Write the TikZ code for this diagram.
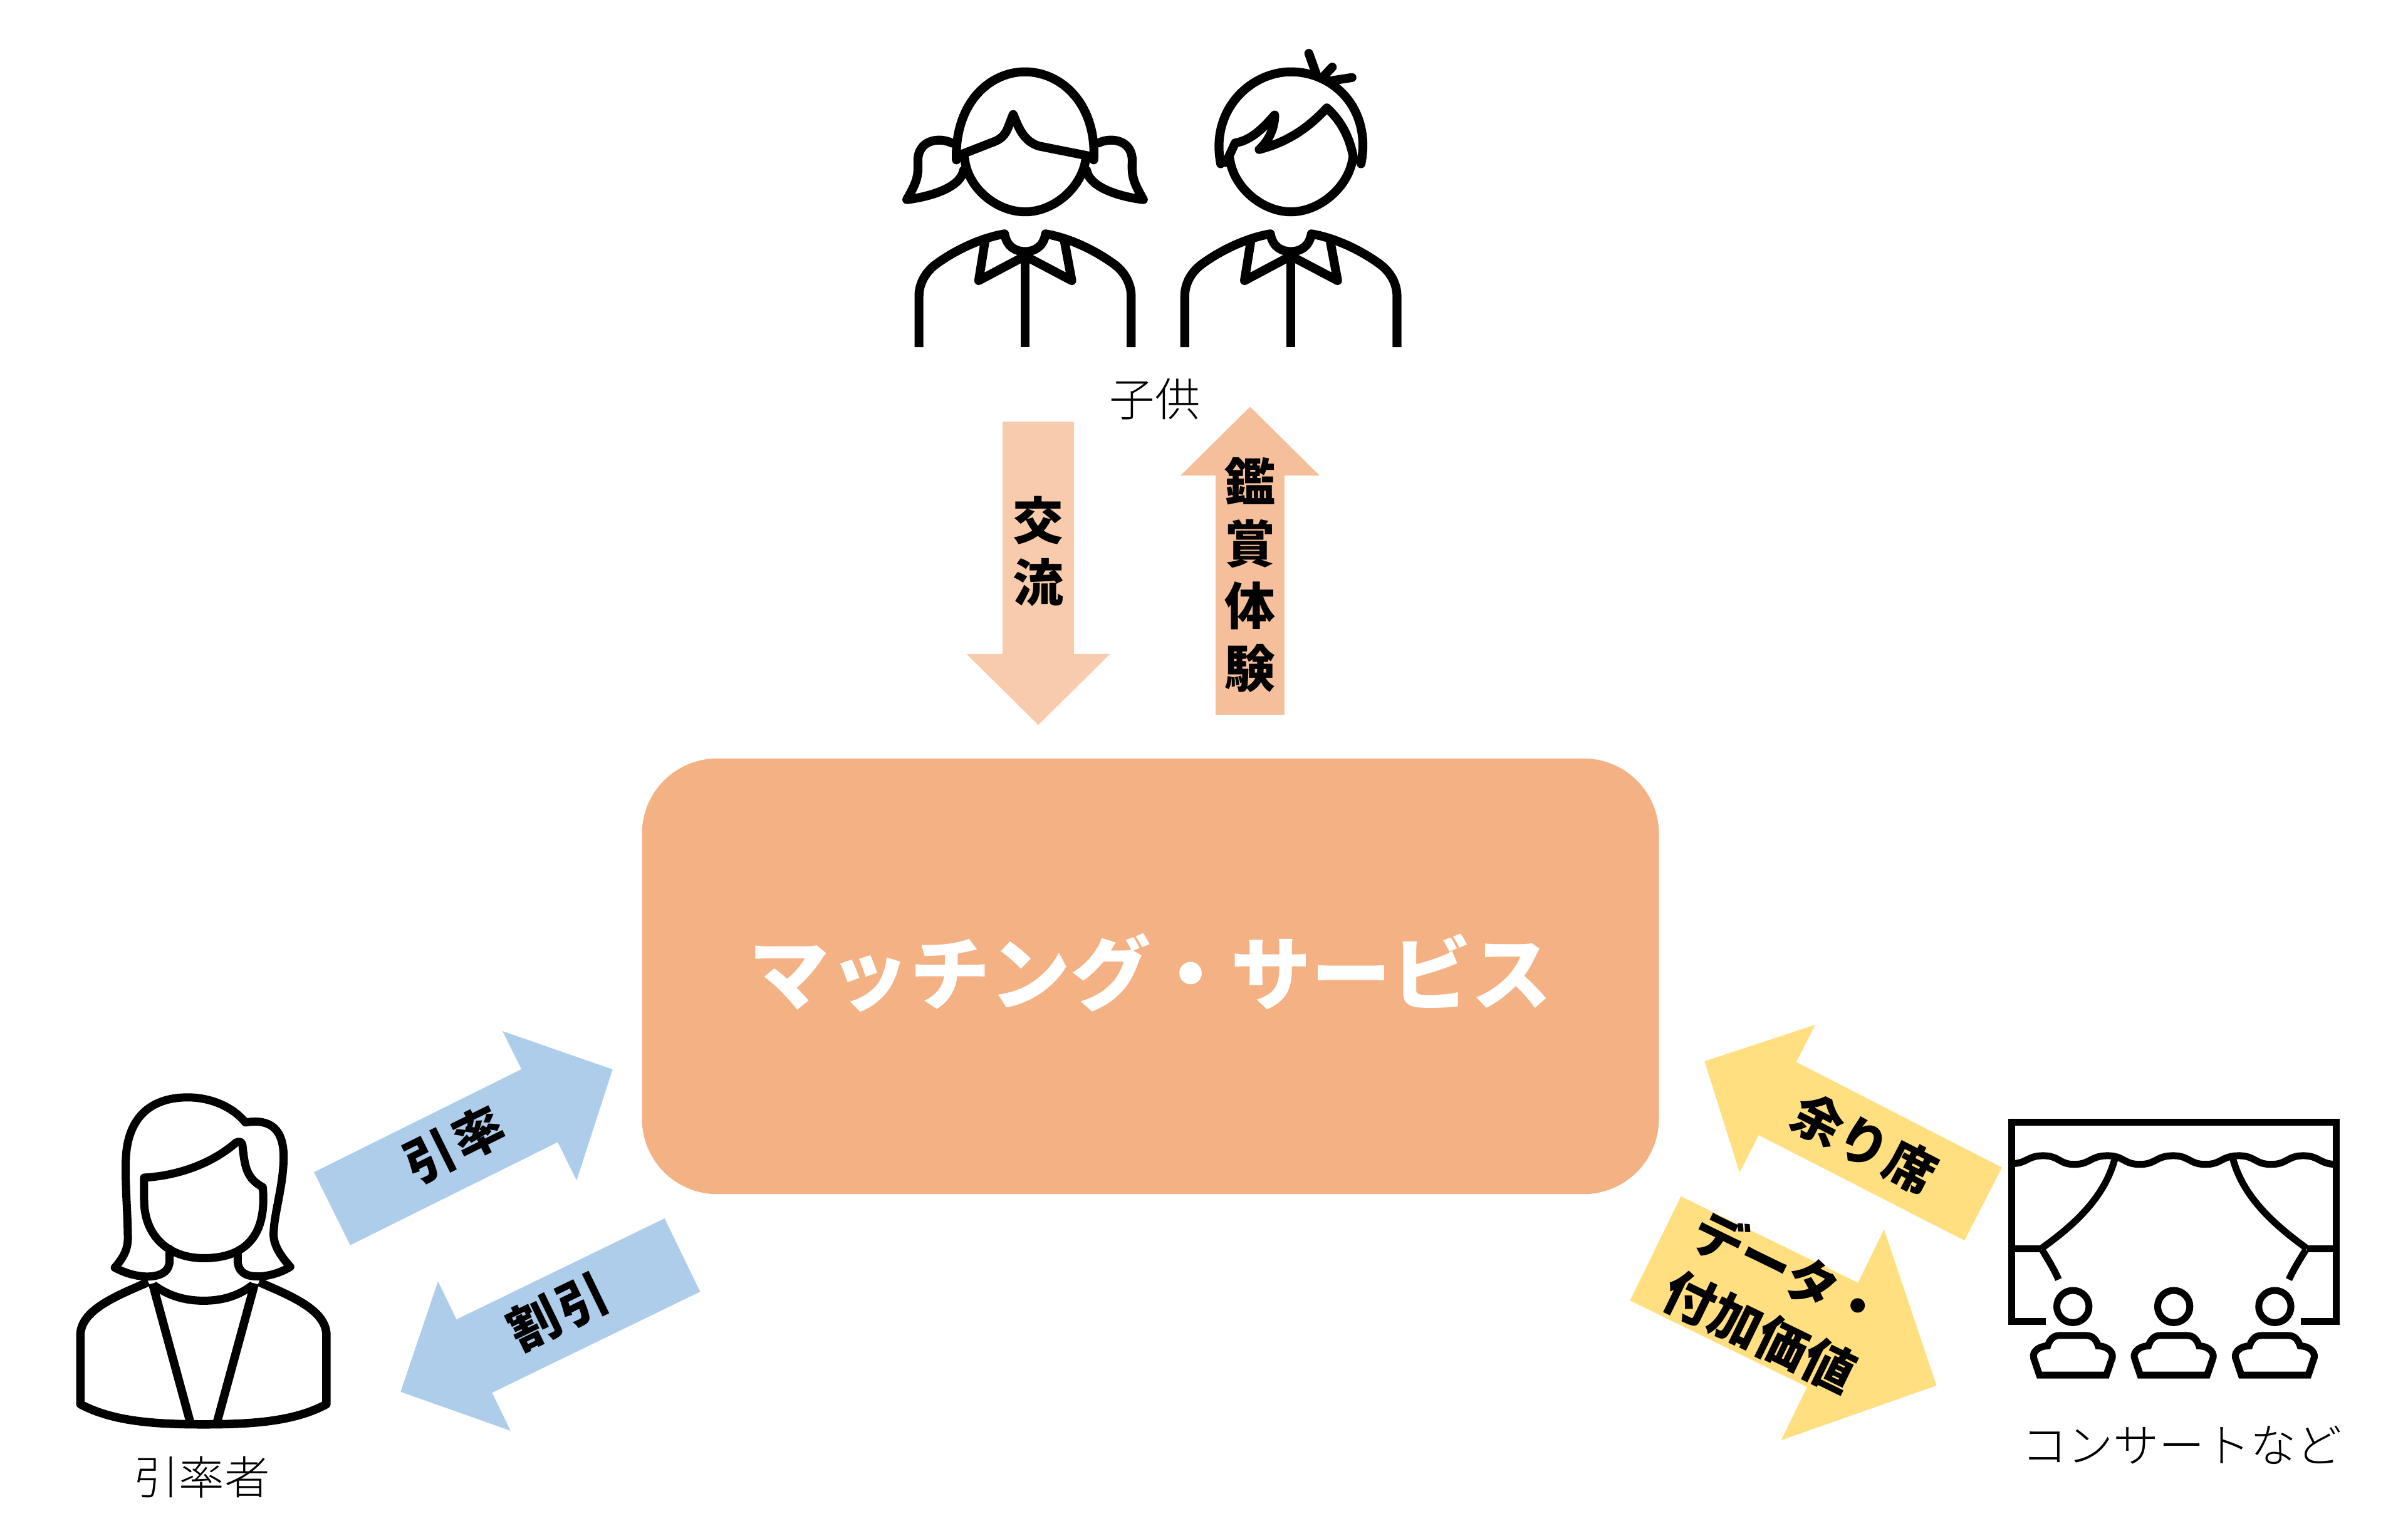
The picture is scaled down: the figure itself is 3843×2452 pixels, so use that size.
\documentclass[tikz,border=0pt]{standalone}
\usepackage{fontspec}
\setmainfont{Noto Sans CJK JP}
\newfontfamily\lightcjk{Noto Sans CJK JP Light}
\usepackage{xcolor}
\usetikzlibrary{arrows.meta,positioning}
\definecolor{serviceorange}{HTML}{F4B183}
\definecolor{peachpale}{HTML}{F7CBAC}
\definecolor{peachmid}{HTML}{F6BF9B}
\definecolor{arrowblue}{HTML}{AECDEA}
\definecolor{arrowyellow}{HTML}{FFDF80}
\newcommand{\shirtbody}{%
  \draw[icon] (116,1216) -- (116,1020) .. controls (116,970) and (135,925) .. (165,895)
    .. controls (220,840) and (290,795) .. (354,780)
    .. controls (360,830) and (385,848) .. (411,848)
    .. controls (437,848) and (462,830) .. (468,780)
    .. controls (532,795) and (602,840) .. (657,895)
    .. controls (687,925) and (706,970) .. (706,1020) -- (706,1216);
  \draw[icon] (300,805) -- (282,960) -- (411,865) -- (541,960) -- (520,805);
  \draw[icon, line cap=butt] (411,865) -- (411,1216);
}
\begin{document}
\begin{tikzpicture}[
  x=0.01cm, y=-0.01cm,
  every node/.style={font=\lightcjk\fontsize{20.6}{24}\selectfont},
  icon/.style={draw=black, line width=1.42mm, line join=round},
  iconcap/.style={icon, line cap=round},
  lbl/.style={font=\bfseries\fontsize{23}{28.2}\selectfont, align=center, inner sep=0pt},
  blockarr/.style n args={3}{line width=#1, -{Triangle[length=#2,width=#3]}},
  servicebox/.style={fill=serviceorange, rounded corners=1.2cm, minimum width=16.22cm, minimum height=6.95cm,
              text=white, font=\bfseries\fontsize{36.4}{40}\selectfont}
]
\useasboundingbox (0,0) rectangle (3843,2452);
\fill[white] (0,0) rectangle (3843,2452);

\node[servicebox] (service) at (1836,1558.5) {\raisebox{.24cm}{マッチング・サービス}};

\node (kidslabel) at (1843,637) {子供};
\node (leaderlabel) at (322,2358) {引率者};
\node[font=\lightcjk\fontsize{20.8}{24}\selectfont] (venuelabel) at (3482,2307) {コンサートなど};

% arrow ends
\coordinate (exchangefrom) at (1657,673);
\coordinate (exchangeto) at (1657,1157.6);
\coordinate (viewfrom) at (1995,1141);
\coordinate (viewto) at (1995,649);
\coordinate (leadfrom) at (530,1929.5);
\coordinate (leadto) at (978,1707);
\coordinate (discountfrom) at (1089,2003.5);
\coordinate (discountto) at (639,2222);
\coordinate (seatfrom) at (3165,1922);
\coordinate (seatto) at (2720,1694);
\coordinate (datafrom) at (2642,1993);
\coordinate (datato) at (3091,2212);

\draw[blockarr={1.14cm}{1.136cm}{2.22cm}, draw=peachpale] (exchangefrom) -- (exchangeto)
  node[lbl, pos=.428] (exchangelabel) {交\\流};
\draw[blockarr={1.10cm}{1.10cm}{2.15cm}, draw=peachmid] (viewfrom) -- (viewto)
  node[lbl, pos=.454] (viewlabel) {鑑\\賞\\体\\験};
\draw[blockarr={1.30cm}{1.305cm}{2.58cm}, draw=arrowblue] (leadfrom) -- (leadto)
  node[lbl, sloped, pos=.44, yshift=1.5pt] (leadlabel) {引\hspace{1.5pt}率};
\draw[blockarr={1.30cm}{1.31cm}{2.57cm}, draw=arrowblue] (discountfrom) -- (discountto)
  node[lbl, sloped, pos=.435, yshift=1.5pt] (discountlabel) {割\hspace{1.5pt}引};
\draw[blockarr={1.31cm}{1.31cm}{2.57cm}, draw=arrowyellow] (seatfrom) -- (seatto)
  node[lbl, sloped, pos=.425] (seatlabel) {余り\hspace{1pt}席};
\draw[blockarr={1.85cm}{1.85cm}{3.63cm}, draw=arrowyellow] (datafrom) -- (datato)
  node[lbl, sloped, pos=.4155, yshift=2pt, font=\bfseries\fontsize{23.4}{30.4}\selectfont] (datalabel) {データ・\\付加価値};

% girl
\begin{scope}[shift={(1400,50)}, xscale=0.574, yscale=0.4146]
  \shirtbody
  \draw[iconcap] (220,495) .. controls (215,280) and (310,156) .. (411,156)
    .. controls (512,156) and (610,280) .. (602,495);
  \draw[iconcap] (243,490) .. controls (250,600) and (330,695) .. (411,695)
    .. controls (492,695) and (570,600) .. (580,490);
  \draw[iconcap] (232,475) -- (325,425) .. controls (360,405) and (360,380) .. (378,320)
    .. controls (395,380) and (410,425) .. (450,442) -- (595,482);
  \draw[iconcap] (207,430) .. controls (170,405) and (112,420) .. (113,500)
    .. controls (115,560) and (110,580) .. (82,648) .. controls (130,640) and (230,610) .. (240,535);
  \draw[iconcap] (615,430) .. controls (652,405) and (710,420) .. (709,500)
    .. controls (707,560) and (712,580) .. (740,648) .. controls (692,640) and (592,610) .. (582,535);
\end{scope}

% boy
\begin{scope}[shift={(1400,50)}, xscale=0.574, yscale=0.4146]
  \begin{scope}[shift={(739,0)}]
    \shirtbody
  \end{scope}
  \draw[iconcap] (955,510) .. controls (925,300) and (1040,156) .. (1150,156)
    .. controls (1270,156) and (1375,300) .. (1345,510);
  \draw[iconcap] (1150,695) .. controls (1070,695) and (990,600) .. (980,490);
  \draw[iconcap] (1150,695) .. controls (1230,695) and (1310,600) .. (1322,490);
  \draw[iconcap] (970,505) -- (995,430) .. controls (1040,420) and (1075,370) .. (1105,322)
    .. controls (1105,370) and (1090,420) .. (1062,455)
    .. controls (1130,430) and (1190,385) .. (1250,295)
    .. controls (1290,345) and (1315,410) .. (1325,495);
  \draw[iconcap] (1200,85) -- (1222,170);
  \draw[iconcap] (1265,138) -- (1240,175);
  \draw[iconcap] (1320,178) -- (1255,192);
\end{scope}

% leader
\begin{scope}[shift={(80,1700)}, xscale=0.3333, yscale=0.459]
  \draw[iconcap, line width=1.3mm] (310,705) .. controls (355,665) and (375,640) .. (372,590)
    .. controls (370,500) and (360,430) .. (362,340)
    .. controls (365,170) and (500,110) .. (670,113)
    .. controls (780,115) and (880,150) .. (935,200)
    .. controls (1020,190) and (1118,200) .. (1118,320)
    .. controls (1118,420) and (1070,520) .. (1070,590)
    .. controls (1070,630) and (1110,670) .. (1150,702)
    .. controls (1100,725) and (1030,738) .. (985,735)
    .. controls (930,735) and (898,715) .. (898,680) -- (898,650);
  \draw[iconcap, line width=1.3mm] (310,705) .. controls (360,725) and (430,740) .. (490,735)
    .. controls (540,730) and (572,715) .. (572,680) -- (572,640);
  \draw[iconcap, line width=1.3mm] (450,392) .. controls (620,385) and (780,340) .. (890,270)
    .. controls (925,260) and (920,280) .. (925,305)
    .. controls (935,370) and (955,400) .. (1018,425)
    .. controls (1030,520) and (1015,672) .. (735,672)
    .. controls (560,672) and (450,590) .. (450,470) -- cycle;
  \draw[icon, line width=1.35mm] (470,755) .. controls (330,800) and (145,850) .. (145,940) -- (145,1180)
    .. controls (300,1240) and (500,1250) .. (735,1250)
    .. controls (970,1250) and (1170,1240) .. (1323,1180) -- (1323,940)
    .. controls (1323,850) and (1140,800) .. (1000,755);
  \draw[icon, line width=1.35mm] (490,760) -- (670,1240);
  \draw[icon, line width=1.35mm] (980,760) -- (800,1240);
  \draw[icon, line width=1.3mm] (495,765) .. controls (570,805) and (650,820) .. (735,820)
    .. controls (820,820) and (900,805) .. (970,765);
\end{scope}

% stage and audience
\begin{scope}[shift={(3150,1750)}, scale=0.3954]
  \draw[icon, line width=1.1mm, line join=miter] (290,908) -- (152,908) -- (152,106) -- (1464,106) -- (1464,908) -- (1320,908);
  \draw[icon, line width=1.1mm] (152,272) .. controls (215,272) and (215,240) .. (280,240)
    .. controls (345,240) and (345,275) .. (405,275) .. controls (470,275) and (470,240) .. (540,240)
    .. controls (605,240) and (605,275) .. (670,275) .. controls (735,275) and (735,240) .. (805,240)
    .. controls (870,240) and (870,275) .. (935,275) .. controls (1000,275) and (1000,240) .. (1070,240)
    .. controls (1135,240) and (1135,275) .. (1200,275) .. controls (1265,275) and (1265,240) .. (1330,240)
    .. controls (1395,240) and (1395,275) .. (1464,275);
  \draw[icon, line width=1.1mm] (570,250) .. controls (530,400) and (420,510) .. (272,615);
  \draw[icon, line width=1.1mm] (1045,250) .. controls (1085,400) and (1200,510) .. (1345,615);
  \draw[icon, line width=1.1mm] (152,617) -- (272,617);
  \draw[icon, line width=1.1mm] (1464,617) -- (1345,617);
  \draw[icon, line width=1.1mm] (276,620) .. controls (300,660) and (325,700) .. (342,740);
  \draw[icon, line width=1.1mm] (1340,620) .. controls (1315,660) and (1290,700) .. (1272,740);
  \foreach \sx in {0,407,815} {
    \begin{scope}[shift={(\sx,0)}]
      \draw[icon, line width=1.1mm] (400,849) circle[radius=65];
      \draw[icon, line width=1.1mm, line join=miter] (265,1126) -- (241,1055) .. controls (236,1030) and (265,1008) .. (298,1008)
        .. controls (305,985) and (320,966) .. (345,966) -- (455,966)
        .. controls (480,966) and (495,985) .. (502,1008)
        .. controls (535,1008) and (564,1030) .. (559,1055) -- (535,1126) -- cycle;
    \end{scope}
  }
\end{scope}
\end{tikzpicture}
\end{document}
